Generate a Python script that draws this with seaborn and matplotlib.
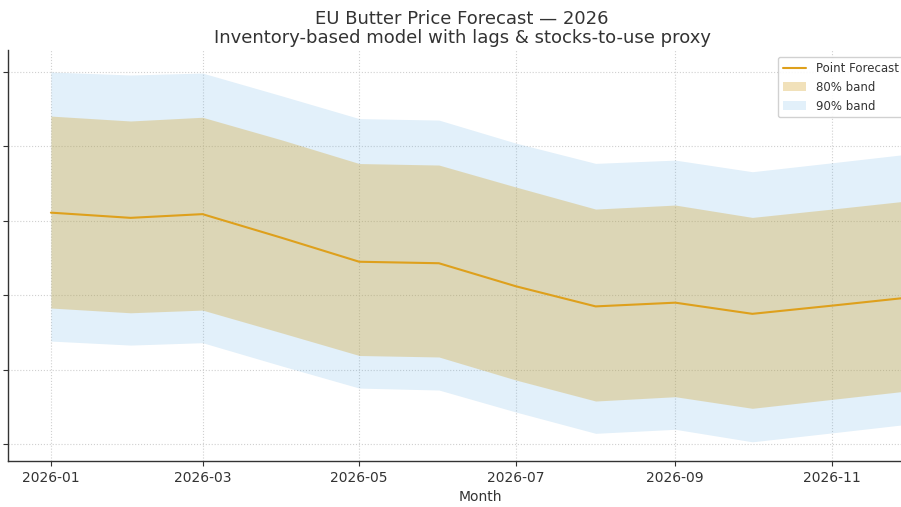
import pandas as pd
import matplotlib
matplotlib.use('Agg')
from matplotlib import pyplot as plt
import matplotlib.dates as mdates
import seaborn as sns

# monthly forecast, EUR/t
months = pd.date_range('2026-01-01', periods=12, freq='MS')
point = [6555, 6520, 6545, 6385, 6225, 6215, 6060, 5925, 5950, 5875, 5930, 5985]
lo80 = [5914, 5882, 5900, 5746, 5595, 5585, 5430, 5289, 5318, 5240, 5300, 5358]
hi80 = [7204, 7171, 7196, 7043, 6885, 6875, 6727, 6579, 6606, 6523, 6579, 6635]
lo90 = [5692, 5665, 5681, 5524, 5376, 5363, 5215, 5072, 5099, 5015, 5075, 5134]
hi90 = [7500, 7480, 7493, 7339, 7187, 7177, 7022, 6886, 6908, 6830, 6890, 6949]
yticks = [5000, 5500, 6000, 6500, 7000, 7500]

df = pd.DataFrame({'month': months, 'point': point,
                   'lo80': lo80, 'hi80': hi80, 'lo90': lo90, 'hi90': hi90})

sns.set_theme(style='ticks')
plt.rcParams['font.family'] = ['DejaVu Sans']
plt.rcParams['text.color'] = '#333333'
plt.rcParams['axes.labelcolor'] = '#333333'
plt.rcParams['xtick.color'] = '#333333'
plt.rcParams['ytick.color'] = '#333333'

fig = plt.figure(figsize=(9.01, 5.07), dpi=100)
# axes run past the right edge, like the cropped original
ax = fig.add_axes([8 / 901, 46 / 507, 944 / 901, 411 / 507])

band90 = ax.fill_between(df['month'], df['lo90'], df['hi90'],
                         color='#6EB4E6', alpha=0.2, linewidth=0, label='90% band')
band80 = ax.fill_between(df['month'], df['lo80'], df['hi80'],
                         color='#D19D1B', alpha=0.3, linewidth=0, label='80% band')
sns.lineplot(x='month', y='point', data=df, ax=ax, color='#DEA01C',
             linewidth=1.5, label='Point Forecast')
line = ax.get_lines()[0]

ax.set_ylim(4886, 7648)
ax.set_yticks(yticks)
ax.xaxis.set_major_locator(mdates.MonthLocator(bymonth=[1, 3, 5, 7, 9, 11]))
ax.xaxis.set_major_formatter(mdates.DateFormatter('%Y-%m'))
ax.tick_params(labelsize=10, length=3.5, width=0.8)

ax.grid(True, linestyle=':', color='#d0d0d0', linewidth=0.8)
ax.set_axisbelow(True)
sns.despine(ax=ax)
for s in ['left', 'bottom']:
    ax.spines[s].set_color('#333333')
    ax.spines[s].set_linewidth(1.0)

# title sits a bit left of the axes centre in the original
ax.set_title('EU Butter Price Forecast \u2014 2026\n'
             'Inventory-based model with lags & stocks-to-use proxy',
             fontsize=13, x=(462 - 8) / 944, linespacing=1.1, pad=5)
ax.set_xlabel('Month', fontsize=10)
ax.set_ylabel('Price (EUR/t)', fontsize=10)

leg = ax.legend(handles=[line, band80, band90], loc='upper left',
                bbox_to_anchor=(770 / 944, 1 - 7 / 411), borderaxespad=0,
                fontsize=8.5, frameon=True, framealpha=0.9)
leg.get_frame().set_edgecolor('#cccccc')

fig.savefig('out.png', dpi=100)
